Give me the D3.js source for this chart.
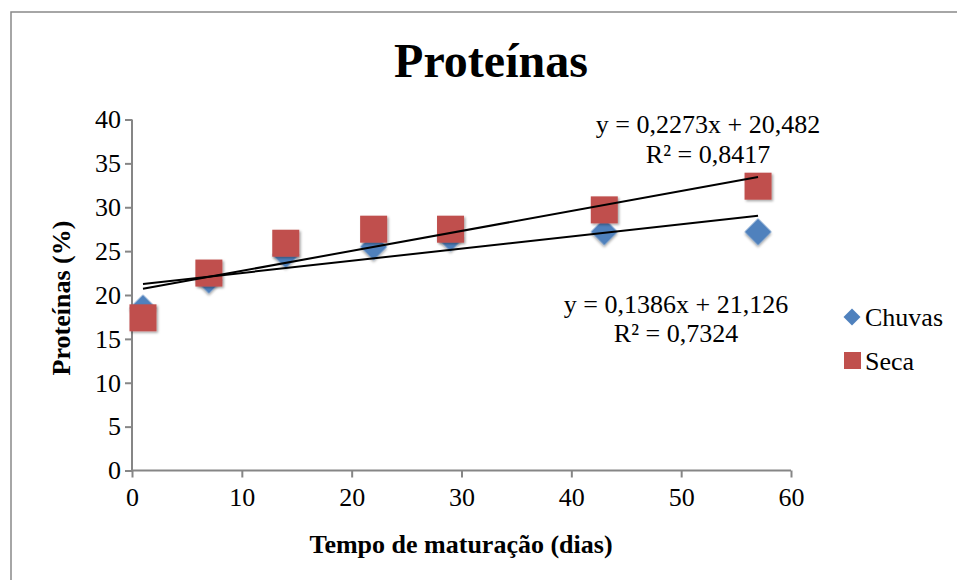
<!DOCTYPE html>
<html><head><meta charset="utf-8">
<script src="https://cdn.jsdelivr.net/npm/d3@7"></script>
<style>body{margin:0;background:#fff}svg{display:block}text{font-family:"Liberation Serif","Times New Roman",serif}</style>
</head><body>
<script>
const days = [1, 7, 14, 22, 29, 43, 57];
const chuvas = [18.5, 21.7, 24.6, 25.5, 26.5, 27.2, 27.2];
const seca = [17.4, 22.5, 25.9, 27.5, 27.5, 29.7, 32.4];
const xTicks = [0, 10, 20, 30, 40, 50, 60];
const yTicks = [0, 5, 10, 15, 20, 25, 30, 35, 40];
const trendChuvas = {slope: 0.1386, intercept: 21.126, eq: "y = 0,1386x + 21,126", r2: "R² = 0,7324"};
const trendSeca = {slope: 0.2273, intercept: 20.482, eq: "y = 0,2273x + 20,482", r2: "R² = 0,8417"};

const W = 957, H = 580, FS = 26;
const svg = d3.select("body").append("svg").attr("width", W).attr("height", H);
const defs = svg.append("defs");
const f = defs.append("filter").attr("id","sh").attr("x","-30%").attr("y","-30%").attr("width","160%").attr("height","160%");
f.append("feDropShadow").attr("dx",1.5).attr("dy",1.5).attr("stdDeviation",1.2).attr("flood-color","#000").attr("flood-opacity",0.35);

svg.append("rect").attr("x",11).attr("y",12).attr("width",960).attr("height",600)
  .attr("fill","none").attr("stroke","#898989").attr("stroke-width",1.5);

const x = d3.scaleLinear().domain([0,60]).range([132,791]);
const y = d3.scaleLinear().domain([0,40]).range([470.5,119.5]);
const axisColor = "#868686";

const gx = svg.append("g").attr("transform",`translate(0,${y(0)})`)
  .call(d3.axisBottom(x).tickValues(xTicks).tickSize(7).tickPadding(6).tickFormat(d3.format("d")));
const gy = svg.append("g").attr("transform",`translate(${x(0)},0)`)
  .call(d3.axisLeft(y).tickValues(yTicks).tickSize(7).tickPadding(4).tickFormat(d3.format("d")));
[gx,gy].forEach(g=>{
  g.attr("font-size", FS).attr("font-family","'Liberation Serif',serif");
  g.select(".domain").attr("stroke",axisColor).attr("stroke-width",2);
  g.selectAll(".tick line").attr("stroke",axisColor).attr("stroke-width",2);
  g.selectAll(".tick text").attr("fill","#000");
});
gy.select(".domain").attr("d",`M0,${y(0)}V${y(40)}`);
gx.select(".domain").attr("d",`M${x(0)},0H${x(60)}`);
gx.selectAll(".tick text").attr("dy","0.85em");
gy.selectAll(".tick text").attr("dy","0.32em");

const blue = "#4F81BD", red = "#C0504D";
const chData = days.map((d,i)=>({x:d,y:chuvas[i]}));
const seData = days.map((d,i)=>({x:d,y:seca[i]}));

svg.append("g").selectAll("path").data(chData).join("path")
  .attr("d", d3.symbol().type(d3.symbolSquare).size(19*19))
  .attr("transform", d=>`translate(${x(d.x)},${y(d.y)}) rotate(45)`)
  .attr("fill", blue).attr("filter","url(#sh)");
svg.append("g").selectAll("rect").data(seData).join("rect")
  .attr("x", d=>x(d.x)-13.5).attr("y", d=>y(d.y)-13.5).attr("width",27).attr("height",27)
  .attr("fill", red).attr("filter","url(#sh)");

[trendSeca, trendChuvas].forEach(t=>{
  const x0 = days[0], x1 = days[days.length-1];
  svg.append("line").attr("x1",x(x0)).attr("y1",y(t.slope*x0+t.intercept))
    .attr("x2",x(x1)).attr("y2",y(t.slope*x1+t.intercept))
    .attr("stroke","#000").attr("stroke-width",2);
});

function label(t, cx, y1, y2){
  svg.append("text").attr("x",cx).attr("y",y1).attr("text-anchor","middle").style("font-size",FS+"px").text(t.eq);
  svg.append("text").attr("x",cx).attr("y",y2).attr("text-anchor","middle").style("font-size",FS+"px").text(t.r2);
}
label(trendSeca, 708, 133, 163);
label(trendChuvas, 676, 313, 342);

svg.append("text").attr("x",491).attr("y",77).attr("text-anchor","middle")
  .style("font-size","48px").style("font-weight","bold").text("Proteínas");
svg.append("text").attr("x",461).attr("y",553).attr("text-anchor","middle")
  .style("font-size",FS+"px").style("font-weight","bold").text("Tempo de maturação (dias)");
svg.append("text").attr("transform","translate(70,298) rotate(-90)").attr("text-anchor","middle")
  .style("font-size",FS+"px").style("font-weight","bold").text("Proteínas (%)");

const lg = svg.append("g");
lg.append("path").attr("d", d3.symbol().type(d3.symbolSquare).size(12*12))
  .attr("transform","translate(852,317) rotate(45)").attr("fill",blue);
lg.append("text").attr("x",865).attr("y",326).style("font-size",FS+"px").text("Chuvas");
lg.append("rect").attr("x",844).attr("y",352).attr("width",17).attr("height",17).attr("fill",red);
lg.append("text").attr("x",865).attr("y",370).style("font-size",FS+"px").text("Seca");
</script>
</body></html>
